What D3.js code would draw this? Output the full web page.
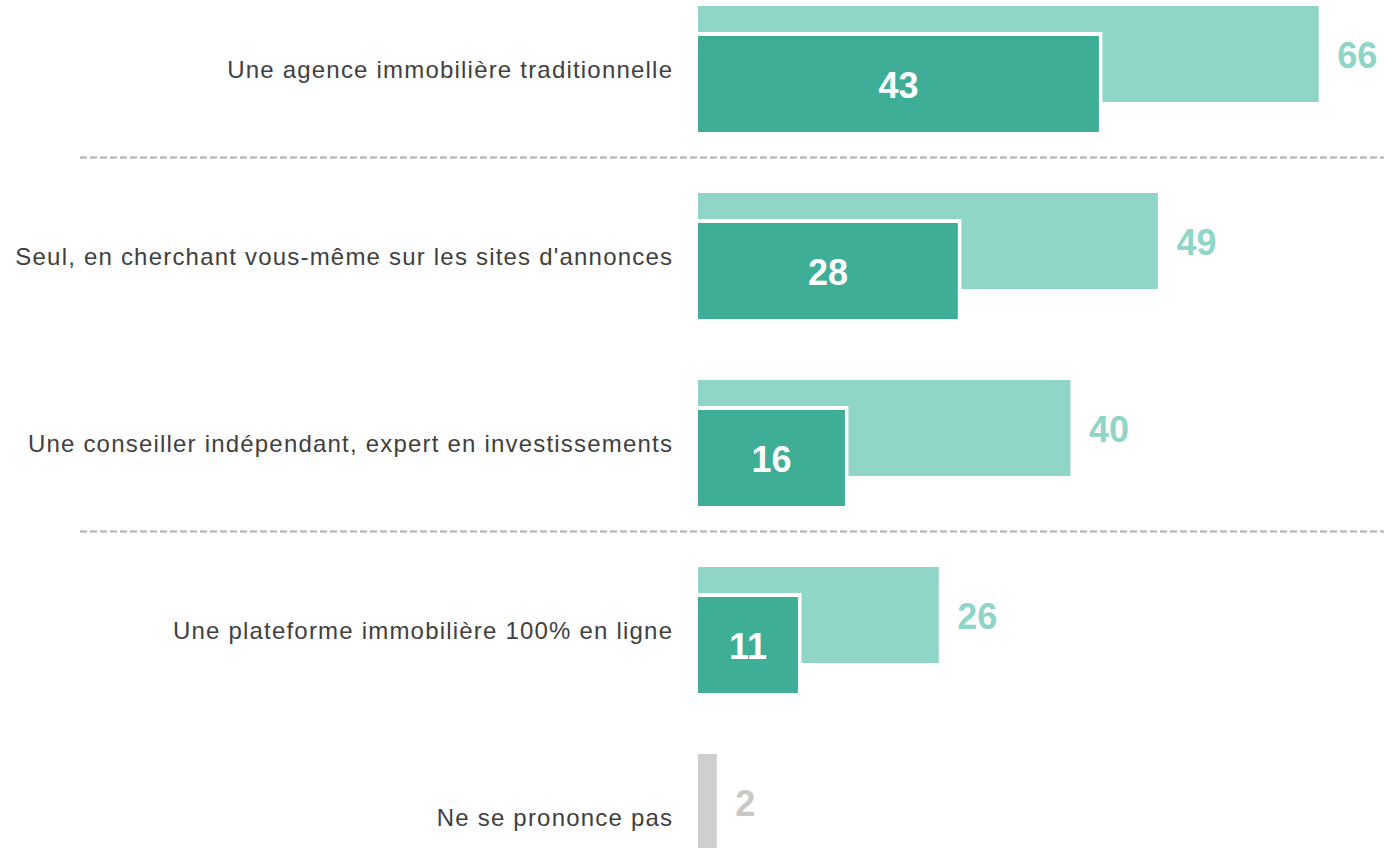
<!DOCTYPE html>
<html><head><meta charset="utf-8">
<script src="https://cdn.jsdelivr.net/npm/d3@7"></script>
<style>html,body{margin:0;padding:0;background:#fff;overflow:hidden}</style>
</head><body><svg id="c" width="1384" height="848"></svg>
<script>
const categories = [
  "Une agence immobilière traditionnelle",
  "Seul, en cherchant vous-même sur les sites d'annonces",
  "Une conseiller indépendant, expert en investissements",
  "Une plateforme immobilière 100% en ligne",
  "Ne se prononce pas"
];
const totalValues = [66.0, 48.9, 39.6, 25.6, 2.0];
const firstValues = [43, 28, 16, 11, null];
const separatorsAfter = [0, 2];

const svg = d3.select("#c");
const x = d3.scaleLinear().domain([0, 66]).range([698, 1318.7]);
const y = d3.scaleBand().domain(categories).range([6, 6 + 187 * 5]).paddingInner(0);
const fmt = d3.format(".0f");
const lightH = 96, darkTop = 30, darkH = 96;
const font = "'Liberation Sans', Arial, sans-serif";

const rows = categories.map((c, i) => ({c, i, total: totalValues[i], first: firstValues[i]}));
const g = svg.selectAll("g.row").data(rows).join("g").attr("class", "row");

g.append("rect")
  .attr("x", x(0)).attr("y", d => y(d.c))
  .attr("width", d => x(d.total) - x(0)).attr("height", lightH)
  .attr("fill", d => d.first == null ? "#d0cfd0" : "#8fd6c8");

const gd = g.filter(d => d.first != null);
gd.append("rect")
  .attr("x", x(0)).attr("y", d => y(d.c) + darkTop - 4)
  .attr("width", d => x(d.first) - x(0)).attr("height", darkH + 4)
  .attr("fill", "#fff");
gd.append("rect")
  .attr("x", x(0)).attr("y", d => y(d.c) + darkTop)
  .attr("width", d => x(d.first) - x(0) - 3.5).attr("height", darkH)
  .attr("fill", "#3fae96");
gd.append("text")
  .attr("x", d => (x(0) + x(d.first) - 3.5) / 2)
  .attr("y", d => y(d.c) + darkTop + darkH / 2 + 1)
  .attr("text-anchor", "middle").attr("dominant-baseline", "central")
  .attr("font-family", font).attr("font-weight", "bold").attr("font-size", 36)
  .attr("fill", "#fff").text(d => fmt(d.first));

g.append("text")
  .attr("x", d => x(d.total) + 18.5)
  .attr("y", d => y(d.c) + lightH / 2 + 1)
  .attr("dominant-baseline", "central")
  .attr("font-family", font).attr("font-weight", "bold").attr("font-size", 36)
  .attr("fill", d => d.first == null ? "#c8c8c8" : "#8fd6c8").text(d => fmt(d.total));

g.append("text")
  .attr("x", 673.2)
  .attr("y", d => y(d.c) + (darkTop + darkH) / 2)
  .attr("text-anchor", "end").attr("dominant-baseline", "central")
  .attr("font-family", font).attr("font-size", 24).attr("letter-spacing", 1.2)
  .attr("fill", "#404040").text(d => d.c);

svg.selectAll("line.sep").data(separatorsAfter).join("line").attr("class", "sep")
  .attr("x1", 80).attr("x2", 1384)
  .attr("y1", i => y(categories[i + 1]) - 35.5).attr("y2", i => y(categories[i + 1]) - 35.5)
  .attr("stroke", "#b0b0b0").attr("stroke-width", 2).attr("stroke-dasharray", "7,3");
</script></body></html>
